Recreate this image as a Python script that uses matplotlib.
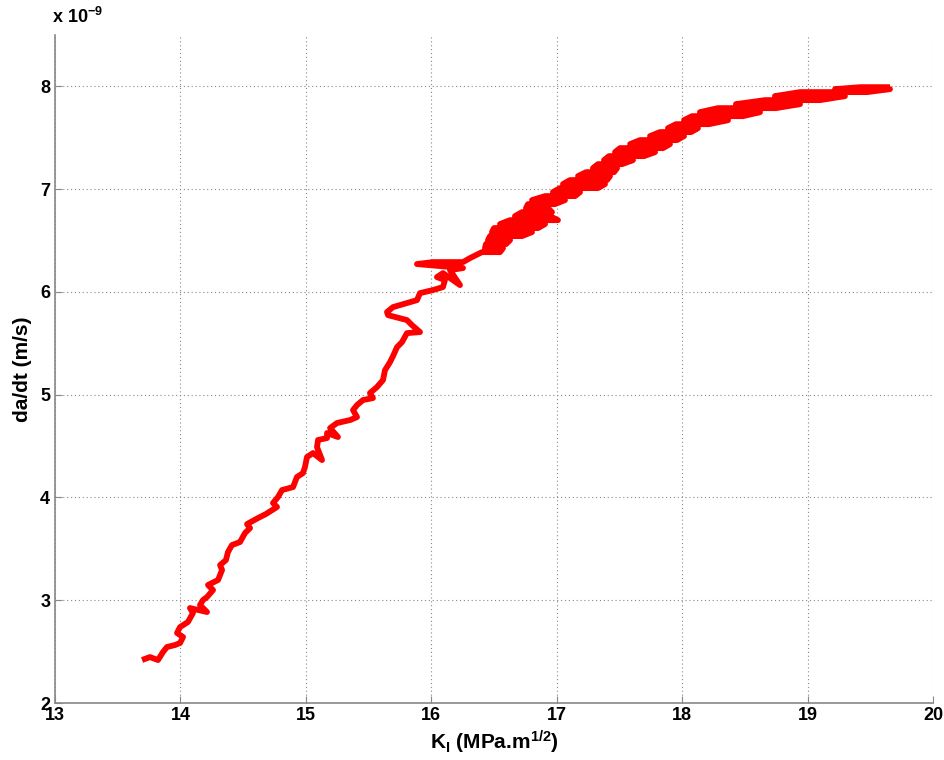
import numpy as np
import matplotlib
matplotlib.use("Agg")
import matplotlib.pyplot as plt

# -----------------------------
# Data (da/dt in units of 1e-9 m/s)
# the upper part is noisy: the trace sweeps back and forth
# -----------------------------
k_i = [13.694, 13.757, 13.821, 13.861, 13.893, 13.957, 13.997, 14.021, 13.973, 13.997,
       14.060, 14.100, 14.076, 14.212, 14.156, 14.180, 14.212, 14.260, 14.220, 14.300,
       14.332, 14.316, 14.363, 14.379, 14.411, 14.475, 14.515, 14.555, 14.531, 14.619,
       14.682, 14.770, 14.738, 14.778, 14.810, 14.898, 14.929, 14.977, 14.993, 15.009,
       15.057, 15.129, 15.089, 15.097, 15.169, 15.169, 15.256, 15.193, 15.248, 15.352,
       15.408, 15.376, 15.408, 15.456, 15.535, 15.511, 15.567, 15.615, 15.631, 15.671,
       15.695, 15.727, 15.767, 15.806, 15.910, 15.846, 15.806, 15.655, 15.647, 15.695,
       15.806, 15.886, 15.910, 16.014, 16.093, 16.109, 16.045, 16.093, 16.229, 16.149,
       16.253, 15.886, 16.014, 16.253, 16.309,
       16.404, 16.548, 16.572, 16.428, 16.436, 16.596, 16.628, 16.452, 16.468, 16.723,
       16.803, 16.484, 16.500, 16.851, 16.907, 16.548, 16.628, 17.010, 16.946, 16.667,
       16.723, 16.962, 16.931, 16.755, 16.771, 16.986, 17.066, 16.803, 16.907, 17.146,
       17.186, 16.970, 17.026, 17.329, 17.385, 17.050, 17.106, 17.401, 17.425, 17.170,
       17.234, 17.457, 17.481, 17.289, 17.329, 17.521, 17.608, 17.377, 17.417, 17.696,
       17.784, 17.465, 17.505, 17.848, 17.903, 17.585, 17.664, 17.959, 18.015, 17.744,
       17.824, 18.071, 18.126, 17.887, 17.951, 18.214, 18.366, 18.015, 18.079, 18.485,
       18.621, 18.142, 18.286, 18.748, 18.940, 18.429, 18.661, 19.099, 19.298, 18.740,
       18.940, 19.474, 19.657, 19.219, 19.418, 19.657]
dadt = [2.418, 2.447, 2.418, 2.496, 2.545, 2.564, 2.584, 2.642, 2.681, 2.739,
        2.788, 2.876, 2.924, 2.885, 2.953, 3.002, 3.031, 3.099, 3.148, 3.197,
        3.294, 3.342, 3.391, 3.469, 3.537, 3.566, 3.654, 3.702, 3.741, 3.800,
        3.839, 3.907, 3.946, 4.004, 4.072, 4.101, 4.199, 4.237, 4.296, 4.393,
        4.432, 4.364, 4.490, 4.559, 4.578, 4.627, 4.588, 4.675, 4.724, 4.753,
        4.782, 4.850, 4.899, 4.948, 4.967, 5.016, 5.074, 5.142, 5.239, 5.317,
        5.376, 5.463, 5.512, 5.599, 5.609, 5.677, 5.726, 5.774, 5.804, 5.852,
        5.891, 5.920, 5.988, 6.018, 6.047, 6.115, 6.144, 6.183, 6.066, 6.212,
        6.232, 6.271, 6.290, 6.290, 6.329,
        6.387, 6.387, 6.426, 6.426, 6.465, 6.465, 6.504, 6.504, 6.543, 6.543,
        6.582, 6.582, 6.621, 6.621, 6.660, 6.660, 6.698, 6.698, 6.737, 6.737,
        6.776, 6.776, 6.815, 6.815, 6.854, 6.854, 6.893, 6.893, 6.932, 6.932,
        6.971, 6.971, 7.010, 7.010, 7.049, 7.049, 7.088, 7.088, 7.127, 7.127,
        7.165, 7.165, 7.204, 7.204, 7.243, 7.243, 7.282, 7.282, 7.321, 7.321,
        7.360, 7.360, 7.399, 7.399, 7.438, 7.438, 7.477, 7.477, 7.516, 7.516,
        7.555, 7.555, 7.593, 7.593, 7.632, 7.632, 7.671, 7.671, 7.710, 7.710,
        7.749, 7.749, 7.788, 7.788, 7.827, 7.827, 7.866, 7.866, 7.905, 7.905,
        7.944, 7.944, 7.973, 7.973, 7.992, 7.992]

x_ticks = [13, 14, 15, 16, 17, 18, 19, 20]
y_ticks = [2, 3, 4, 5, 6, 7, 8]

# -----------------------------
# Fonts
# -----------------------------
fam = "Liberation Sans"
plt.rcParams["font.family"] = [fam, "DejaVu Sans"]
plt.rcParams["font.weight"] = "bold"
plt.rcParams["mathtext.fontset"] = "custom"
plt.rcParams["mathtext.rm"] = fam + ":bold"
plt.rcParams["mathtext.it"] = fam + ":bold"
plt.rcParams["mathtext.bf"] = fam + ":bold"
plt.rcParams["mathtext.default"] = "rm"

# -----------------------------
# Plot
# -----------------------------
fig = plt.figure(figsize=(9.45, 7.6), dpi=100)
ax = fig.add_axes([0.0582, 0.075, 0.9291, 0.879])

ax.plot(k_i, dadt, color="red", linewidth=4.2, solid_joinstyle="round",
        solid_capstyle="butt")

ax.set_xlim(13, 20)
ax.set_ylim(2, 8.5)
ax.set_xticks(x_ticks)
ax.set_yticks(y_ticks)
ax.grid(True, color="#888888", linestyle=(0, (1, 2.5)), linewidth=0.8)

for s in ["top", "right"]:
    ax.spines[s].set_visible(False)
for s in ["left", "bottom"]:
    ax.spines[s].set_color("#888888")
    ax.spines[s].set_linewidth(1.2)

ax.tick_params(direction="in", length=5, color="#888888", labelsize=13,
               labelcolor="black")
ax.tick_params(axis="x", pad=3)
for lab in ax.get_xticklabels() + ax.get_yticklabels():
    lab.set_fontweight("bold")

ax.set_xlabel(r"K$_\mathregular{I}$ (MPa.m$^{1/2}$)", fontsize=15, fontweight="bold", labelpad=3)
ax.set_ylabel("da/dt (m/s)", fontsize=15, fontweight="bold", labelpad=6)
ax.text(-0.003, 1.012, r"x 10$^{-9}$", transform=ax.transAxes, fontsize=13,
        fontweight="bold", ha="left", va="bottom")

plt.savefig("out.png", dpi=100)
